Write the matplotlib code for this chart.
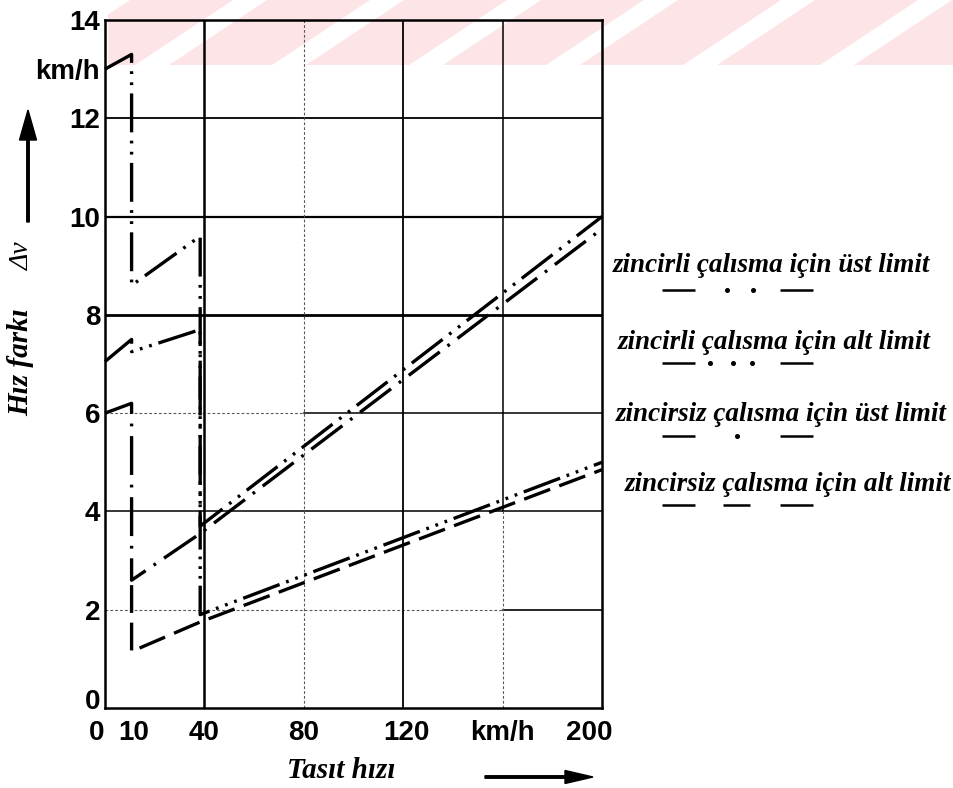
import matplotlib
matplotlib.use("Agg")
import matplotlib.pyplot as plt
from matplotlib.patches import Polygon, Rectangle, FancyArrow
from matplotlib.lines import Line2D
from matplotlib.transforms import Affine2D, ScaledTranslation

# Vehicle speed (km/h) and allowed speed difference Δv (km/h) for each limit curve
speed_chain_upper = [0, 10.7, 10.7, 38.3, 38.3, 200]
dv_chain_upper = [13.0, 13.3, 8.6, 9.6, 3.7, 10.0]

speed_chain_lower = [0, 10.7, 10.7, 38.3, 38.3, 200]
dv_chain_lower = [7.05, 7.5, 7.25, 7.7, 1.9, 5.0]

speed_free_upper = [0, 10.7, 10.7, 38.3, 200]
dv_free_upper = [6.0, 6.2, 2.6, 3.55, 9.75]

speed_free_lower = [10.7, 10.7, 38.3, 200]
dv_free_lower = [2.5, 1.15, 1.75, 4.85]

series_labels = [
    "zincirli çalısma için üst limit",
    "zincirli çalısma için alt limit",
    "zincirsiz çalısma için üst limit",
    "zincirsiz çalısma için alt limit",
]

x_ticks = [0, 10, 40, 80, 120, 160, 200]
x_tick_labels = ["0", "10", "40", "80", "120", "km/h", "200"]
y_ticks = [0, 2, 4, 6, 8, 10, 12, 13, 14]
y_tick_labels = ["0", "2", "4", "6", "8", "10", "12", "km/h", "14"]

plt.rcParams["lines.scale_dashes"] = False

W, H = 954, 788
fig = plt.figure(figsize=(W / 100, H / 100), dpi=100)
fig.patch.set_facecolor("white")

# pixel transform: origin at top-left of the figure
PX = Affine2D().scale(1, -1).translate(0, H)

# faint pink banner stripes across the top
band = Rectangle((108, 0), W - 108, 65, transform=PX, facecolor="none", edgecolor="none")
fig.add_artist(band)
for k in range(-1, 8):
    xl = 130 + k * 137
    stripe = Polygon([(xl, 0), (xl + 103, 0), (xl + 103 - 98, 65), (xl - 98, 65)],
                     closed=True, transform=PX, facecolor="#fce4e7",
                     edgecolor="none", zorder=-1)
    fig.add_artist(stripe)
    stripe.set_clip_path(band)

ax = fig.add_axes([105 / W, 1 - 708 / H, (602 - 105) / W, (708 - 20) / H])
ax.set_facecolor("none")
ax.set_xlim(0, 200)
ax.set_ylim(0, 14)

# grid
solid = dict(color="black", zorder=1)
ax.axhline(12, lw=1.3, **solid)
ax.axhline(10, lw=1.6, **solid)
ax.axhline(8, lw=2.0, **solid)
ax.axhline(4, lw=1.1, **solid)
ax.plot([0, 80], [6, 6], color="0.35", lw=0.8, ls=(0, (2, 1.5)), zorder=1)
ax.plot([80, 200], [6, 6], lw=1.1, **solid)
ax.plot([0, 160], [2, 2], color="0.35", lw=0.8, ls=(0, (2, 1.5)), zorder=1)
ax.plot([160, 200], [2, 2], lw=1.2, **solid)
ax.axvline(40, lw=1.8, **solid)
ax.axvline(120, lw=1.3, **solid)
ax.axvline(80, color="0.35", lw=0.8, ls=(0, (2, 1.5)), zorder=1)
ax.plot([160, 160], [4, 14], lw=1.1, **solid)
ax.plot([160, 160], [0, 4], color="0.35", lw=0.8, ls=(0, (2, 1.5)), zorder=1)

# limit curves
styles = [
    (0, (28, 6, 2, 6, 2, 6)),          # dash-dot-dot
    (0, (28, 5, 2, 5, 2, 5, 2, 5)),    # dash-dot-dot-dot
    (0, (28, 7, 2, 7)),                # dash-dot
    (0, (20, 7)),                      # dashed
]
curves = [
    (speed_chain_upper, dv_chain_upper),
    (speed_chain_lower, dv_chain_lower),
    (speed_free_upper, dv_free_upper),
    (speed_free_lower, dv_free_lower),
]
for (xs, ys), ls in zip(curves, styles):
    ax.plot(xs, ys, color="black", lw=2.4, ls=ls, solid_joinstyle="miter",
            zorder=3, clip_on=False)

for side in ["left", "right", "top", "bottom"]:
    ax.spines[side].set_linewidth(1.8)

tick_font = dict(family="Liberation Sans", weight="bold", size=20)
ax.set_xticks(x_ticks)
ax.set_xticklabels(x_tick_labels, fontdict=tick_font)
ax.set_yticks(y_ticks)
ax.set_yticklabels(y_tick_labels, fontdict=tick_font)
ax.tick_params(length=0)
ax.tick_params(axis="x", pad=8.5)
ax.tick_params(axis="y", pad=3.5)

x_shift = {"0": -8, "10": 4, "120": 3, "200": -13}
for lab in ax.get_xticklabels():
    dx = x_shift.get(lab.get_text(), 0)
    if dx:
        lab.set_transform(lab.get_transform() + ScaledTranslation(dx / 100, 0, fig.dpi_scale_trans))
# the bottom "0" of the value axis sits a little above the frame corner
for lab in ax.get_yticklabels():
    if lab.get_text() == "0":
        lab.set_transform(lab.get_transform() + ScaledTranslation(0, 9 / 100, fig.dpi_scale_trans))

serif = dict(family="Liberation Serif", weight="bold", style="italic")

# axis titles with arrows
fig.text(341 / W, 1 - 770 / H, "Tasıt hızı", ha="center", va="center", size=21, **serif)
fig.add_artist(FancyArrow(485, 777, 108, 0, width=2.5, head_width=13, head_length=28,
                          length_includes_head=True, transform=PX, color="black"))
fig.text(21 / W, 1 - 362 / H, "Hız farkı", ha="center", va="center", rotation=90, size=21, **serif)
fig.text(22 / W, 1 - 256 / H, "Δv", ha="center", va="center", rotation=90, size=20,
         family="Liberation Serif", style="italic")
fig.add_artist(FancyArrow(28, 222, 0, -112, width=2.5, head_width=17, head_length=30,
                          length_includes_head=True, transform=PX, color="black"))

# legend texts with line keys underneath
text_pos = [(613, 272), (618, 349), (616, 421), (625, 491)]
key_y = [290, 363, 436, 505]
key_parts = [
    [("dash", 662, 695), ("dot", 727), ("dot", 753), ("dash", 780, 813)],
    [("dash", 662, 695), ("dot", 710), ("dot", 733), ("dot", 752), ("dash", 780, 813)],
    [("dash", 662, 695), ("dot", 737), ("dash", 780, 813)],
    [("dash", 662, 695), ("dash", 723, 750), ("dash", 780, 813)],
]
for label, (tx, ty), ky, parts in zip(series_labels, text_pos, key_y, key_parts):
    fig.text(tx / W, 1 - ty / H, label, ha="left", va="baseline", size=19.5, **serif)
    for part in parts:
        if part[0] == "dash":
            fig.add_artist(Line2D([part[1], part[2]], [ky, ky], transform=PX,
                                  color="black", lw=1.8, solid_capstyle="butt"))
        else:
            fig.add_artist(Line2D([part[1]], [ky], transform=PX, marker="o",
                                  markersize=2.6, color="black", lw=0))

fig.savefig("out.png", dpi=100)
